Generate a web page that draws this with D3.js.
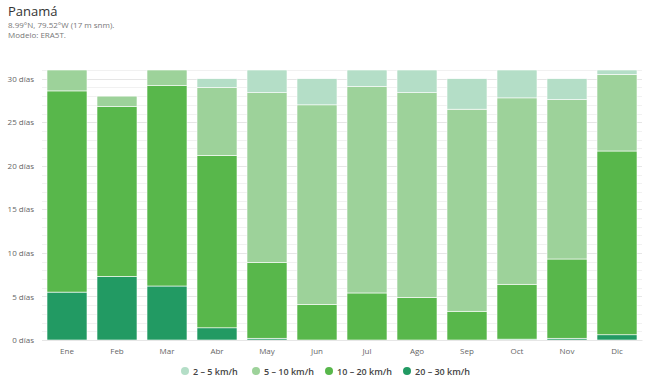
<!DOCTYPE html>
<html>
<head>
<meta charset="utf-8">
<script src="https://cdn.jsdelivr.net/npm/d3@7"></script>
<style>
  body { margin: 0; background: #fff; }
  svg { font-family: "Open Sans", sans-serif; }
</style>
</head>
<body>
<svg id="chart" width="650" height="389"></svg>
<script>
// months and wind-speed day counts
const months = ["Ene", "Feb", "Mar", "Abr", "May", "Jun", "Jul", "Ago", "Sep", "Oct", "Nov", "Dic"];
const wind_20_30 = [5.5, 7.3, 6.2, 1.4, 0.2, 0, 0, 0, 0, 0.1, 0.2, 0.6];
const wind_10_20 = [23.1, 19.5, 23.0, 19.8, 8.7, 4.1, 5.4, 4.9, 3.3, 6.3, 9.1, 21.1];
const wind_5_10 = [2.4, 1.2, 1.8, 7.8, 19.5, 22.9, 23.7, 23.5, 23.2, 21.4, 18.3, 8.8];
const wind_2_5 = [0, 0, 0, 1.0, 2.6, 3.0, 1.9, 2.6, 3.5, 3.2, 2.4, 0.5];
const series_names = ["20 – 30 km/h", "10 – 20 km/h", "5 – 10 km/h", "2 – 5 km/h"];
const series_colors = ["#229a63", "#58b74b", "#9dd29a", "#b4dec7"];
const y_ticks = [0, 5, 10, 15, 20, 25, 30];

let svg = d3.select("#chart");
let margin = { top: 70, right: 8, bottom: 49, left: 42 };
let width = 650 - margin.left - margin.right;
let height = 389 - margin.top - margin.bottom;

let table = months.map((m, i) => ({
    month: m,
    s0: wind_20_30[i], s1: wind_10_20[i], s2: wind_5_10[i], s3: wind_2_5[i]
}));
let stack = d3.stack().keys(["s0", "s1", "s2", "s3"])(table);

let x = d3.scaleBand().domain(months).range([0, width]).paddingInner(0.2).paddingOuter(0.1);
let y = d3.scaleLinear().domain([0, 31]).range([height, 0]);

// title
svg.append("text").attr("x", 8).attr("y", 16)
    .style("font-size", "13px").style("fill", "#333").text("Panamá");
svg.append("text").attr("x", 8).attr("y", 28)
    .style("font-size", "8px").style("fill", "#777").text("8.99°N, 79.52°W (17 m snm).");
svg.append("text").attr("x", 8).attr("y", 38)
    .style("font-size", "8px").style("fill", "#777").text("Modelo: ERA5T.");

let g = svg.append("g").attr("transform", "translate(" + margin.left + "," + margin.top + ")");

// faint grid every day
g.append("g").selectAll("line")
    .data(d3.range(0, 32))
    .enter()
    .append("line")
        .attr("x1", 0).attr("x2", width)
        .attr("y1", d => Math.round(y(d)) + 0.5).attr("y2", d => Math.round(y(d)) + 0.5)
        .style("stroke", d => d % 5 == 0 ? "#e6e6e6" : "#f1f1f1")
        .style("stroke-width", 1);

// bars
g.append("g").selectAll("g")
    .data(stack)
    .enter()
    .append("g")
        .style("fill", (d, i) => series_colors[i])
    .selectAll("rect")
    .data(d => d)
    .enter()
    .append("rect")
        .attr("x", d => x(d.data.month))
        .attr("y", d => y(d[1]))
        .attr("width", x.bandwidth())
        .attr("height", d => Math.max(0, y(d[0]) - y(d[1])))
        .style("stroke", "#fff")
        .style("stroke-width", 0.6);

// y axis
let yAxis = g.append("g")
    .call(d3.axisLeft(y).tickValues(y_ticks).tickSize(0).tickPadding(8).tickFormat(d => d + " días"));
yAxis.select(".domain").remove();
yAxis.selectAll("text").style("font-size", "8px").style("fill", "#666").style("font-family", "Open Sans, sans-serif");

// x axis
let xAxis = g.append("g")
    .attr("transform", "translate(0," + height + ")")
    .call(d3.axisBottom(x).tickSize(0).tickPadding(8));
xAxis.select(".domain").style("stroke", "#e6e6e6");
xAxis.selectAll("text").style("font-size", "8px").style("fill", "#666").style("font-family", "Open Sans, sans-serif");

// legend
let legend_x = [185, 256, 329, 407];
let legend = svg.append("g").selectAll("g")
    .data([3, 2, 1, 0])
    .enter()
    .append("g")
        .attr("transform", (d, i) => "translate(" + legend_x[i] + ",371)");
legend.append("circle").attr("r", 4).style("fill", d => series_colors[d]);
legend.append("text").attr("x", 8).attr("y", 3.5)
    .style("font-size", "9px").style("font-weight", "600").style("fill", "#444")
    .text(d => series_names[d]);
</script>
</body>
</html>
